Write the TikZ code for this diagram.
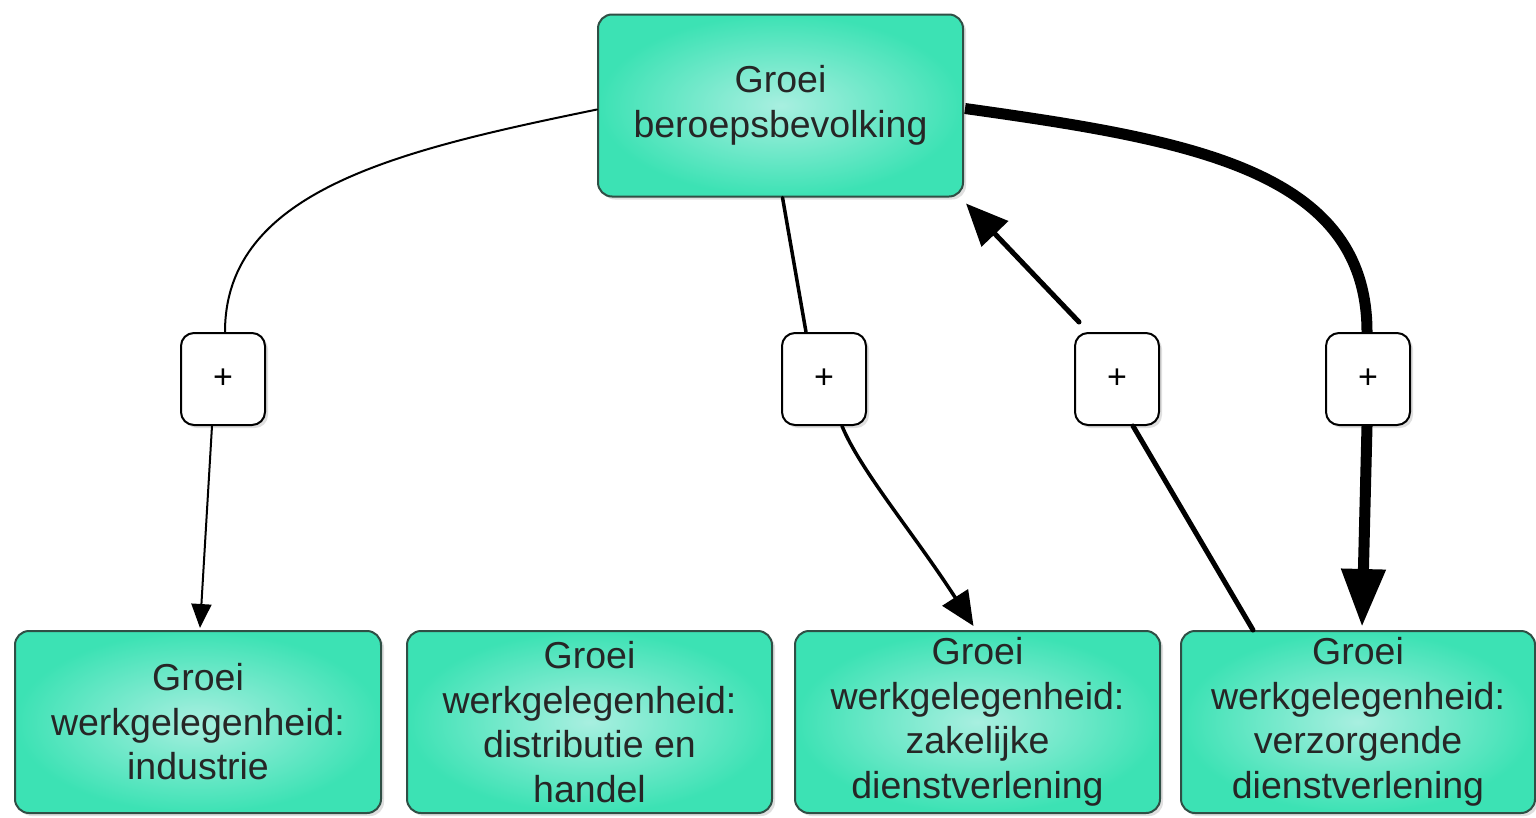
\documentclass[tikz,border=0pt]{standalone}
\usepackage{fontspec}
\setmainfont{Liberation Sans}
\usetikzlibrary{shadows,arrows.meta}
\definecolor{boxborder}{HTML}{2F4F45}
\definecolor{tealout}{HTML}{3CE2B4}
\definecolor{tealin}{HTML}{A8EFE0}
\begin{document}
\begin{tikzpicture}[x=1pt,y=-1pt,
  varbox/.style={draw=boxborder, line width=2pt, rounded corners=14pt,
    inner color=tealin, outer color=tealout,
    minimum height=182pt, align=center, inner sep=0pt,
    font=\fontsize{37.5}{44.5}\selectfont, text=black!85,
    drop shadow={shadow xshift=3pt, shadow yshift=-3pt, opacity=0.25}},
  signbox/.style={draw=black, line width=2pt, rounded corners=13pt, fill=white,
    minimum width=84pt, minimum height=92pt, inner sep=0pt,
    font=\fontsize{34}{36}\selectfont,
    drop shadow={shadow xshift=3pt, shadow yshift=-3pt, opacity=0.25}},
  link/.style={draw=black, line cap=round},
]
\useasboundingbox (0,0) rectangle (1536,817);
\fill[white] (0,0) rectangle (1536,817);

% main nodes
\node[varbox, minimum width=365pt] (top) at (780.5,105.5) {Groei\\beroepsbevolking};
\node[varbox, minimum width=366pt] (b1) at (198,722) {Groei\\werkgelegenheid:\\industrie};
\node[varbox, minimum width=365pt] (b2) at (589.5,722) {Groei\\werkgelegenheid:\\distributie en\\handel};
\node[varbox, minimum width=365pt] (b3) at (977.5,722) {Groei\\werkgelegenheid:\\zakelijke\\dienstverlening};
\node[varbox, minimum width=354pt] (b4) at (1358,722) {Groei\\werkgelegenheid:\\verzorgende\\dienstverlening};

% sign nodes
\node[signbox] (p1) at (223,379) {+};
\node[signbox] (p2) at (824,379) {+};
\node[signbox] (p3) at (1117,379) {+};
\node[signbox] (p4) at (1368,379) {+};

% connector 1: top -> industrie (thin)
\draw[link, line width=2pt] ([yshift=-4pt]top.west) .. controls (400,150) and (225,190) .. ([xshift=2pt]p1.north);
\draw[link, line width=2pt, -{Triangle[length=24pt,width=20pt]}] ([xshift=-11pt]p1.south) -- ([xshift=2pt,yshift=2pt]b1.north);

% connector 2: top -> zakelijke
\draw[link, line width=3.5pt] ([xshift=2pt]top.south) -- ([xshift=-18pt]p2.north);
\draw[link, line width=3.5pt, -{Triangle[length=34pt,width=30pt]}] ([xshift=18pt]p2.south) .. controls (860,470) and (915,535) .. ([xshift=-4pt,yshift=4pt]b3.north);

% connector 3: verzorgende -> top
\draw[link, line width=5pt] ([xshift=-105pt]b4.north) -- ([xshift=16pt]p3.south);
\draw[link, line width=5pt, -{Triangle[length=42pt,width=36pt]}] ([xshift=-38pt,yshift=10pt]p3.north) -- ([xshift=2pt,yshift=-6pt]top.south east);

% connector 4: top -> verzorgende (thick)
\draw[link, line width=11pt, line cap=butt] ([yshift=-3pt,xshift=1pt]top.east) .. controls (1190,140) and (1367,170) .. ([xshift=-1pt]p4.north);
\draw[link, line width=11pt, line cap=butt, -{Triangle[length=58pt,width=42pt]}] ([xshift=-1pt]p4.south) -- ([xshift=4pt,yshift=3pt]b4.north);
\end{tikzpicture}
\end{document}
